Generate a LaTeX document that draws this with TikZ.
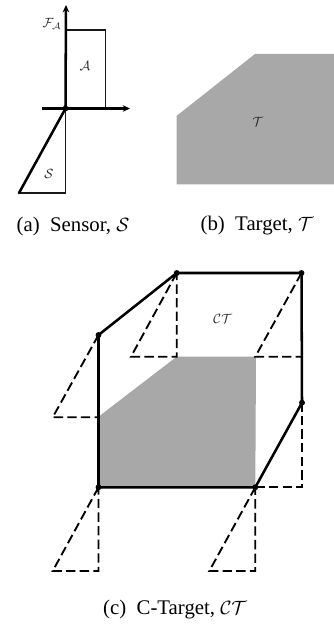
\documentclass[tikz,border=0pt]{standalone}
\usepackage{fontspec}
\setmainfont{Liberation Serif}
\usetikzlibrary{arrows.meta}
\tikzset{
  x=0.75pt,y=-0.75pt,
  thinline/.style={line width=1.1pt,black!90},
  thickline/.style={line width=1.9pt,black},
  axisline/.style={line width=1.9pt,black,-{Stealth[length=5.5pt,width=5pt]}},
  dashline/.style={line width=1.4pt,black,dash pattern=on 7pt off 3.2pt},
  dotmark/.style={circle,fill=black,inner sep=0pt,minimum size=4.4pt},
  lab/.style={inner sep=0pt,black!85,font=\fontsize{10}{12}\selectfont},
  captext/.style={inner sep=0pt,font=\fontsize{15.6}{17}\selectfont},
  targetfill/.style={fill=black!34,draw=none}
}
\begin{document}
\begin{tikzpicture}
\useasboundingbox (0,0) rectangle (334,627);
% panel a
\coordinate (o) at (65.5,108.5);
\coordinate (ytip) at (66,5);
\coordinate (xl) at (42,108.5);
\coordinate (xtip) at (130,108.5);
\coordinate (a1) at (65.5,30);
\coordinate (a2) at (105.5,30);
\coordinate (a3) at (105.5,108.5);
\coordinate (s1) at (19,193);
\coordinate (s2) at (65.5,193);
\draw[thinline] (a1) -- (a2) -- (a3);
\draw[axisline] (o) -- (ytip);
\draw[axisline] (xl) -- (xtip);
\draw[thinline] (s1) -- (s2) -- (o);
\draw[thickline,line cap=round] (o) -- (s1);
\node[dotmark] (odot) at (o) {};
\node[lab] (fa) at (52,24) {$\mathcal{F}_{\mathcal{A}}$};
\node[lab] (la) at (85,66) {$\mathcal{A}$};
\node[lab] (ls) at (49,174) {$\mathcal{S}$};
\node[captext] (capa) at (73,226) {(a)~ Sensor, $\mathcal{S}$};
% panel b
\fill[targetfill] (176.5,116) -- (255,54) -- (334,54) -- (334,184.5) -- (176.5,184.5) -- cycle;
\node[lab] (lt) at (258,122) {$\mathcal{T}$};
\node[captext] (capb) at (257,226) {(b)~ Target, $\mathcal{T}$};
% panel c
\coordinate (p1) at (98.5,335);
\coordinate (p2) at (176.7,273);
\coordinate (p3) at (301.5,273);
\coordinate (p4) at (302,402.7);
\coordinate (p5) at (255.3,487.3);
\coordinate (p6) at (98.5,487.3);
\coordinate (g1) at (98.5,416.7);
\coordinate (g2) at (176.7,356.7);
\coordinate (g3) at (256,356.7);
\fill[targetfill] (g1) -- (g2) -- (g3) -- (p5) -- (p6) -- cycle;
% dashed sensor copies
\coordinate (t1) at (52.7,417.3); \coordinate (r1) at (98.5,417.3);
\coordinate (t2) at (131,356.7);  \coordinate (r2) at (176.7,356.7);
\coordinate (t3) at (255.3,356.7);\coordinate (r3) at (301.5,356.7);
\coordinate (t4) at (255.3,487.3);\coordinate (r4) at (302,487.3);
\coordinate (t5) at (52.7,571);   \coordinate (r5) at (98.5,571);
\coordinate (t6) at (209.3,571);  \coordinate (r6) at (255.3,571);
\draw[dashline] (p1) -- (t1) -- (r1);
\draw[dashline] (p2) -- (t2) -- (r2) -- (p2);
\draw[dashline] (p3) -- (t3) -- (r3);
\draw[dashline] (t4) -- (r4) -- (p4);
\draw[dashline] (p6) -- (t5) -- (r5) -- (p6);
\draw[dashline] (p5) -- (t6) -- (r6) -- (p5);
% outline
\draw[thickline,line join=round] (p1) -- (p2) -- (p3) -- (p4) -- (p5) -- (p6) -- cycle;
\foreach \n in {p1,p2,p3,p4,p5,p6} \node[dotmark] (d\n) at (\n) {};
\node[lab] (lct) at (222.7,319.3) {$\mathcal{CT}$};
\node[captext] (capc) at (175,610) {(c)~ C-Target, $\mathcal{CT}$};
\end{tikzpicture}
\end{document}
